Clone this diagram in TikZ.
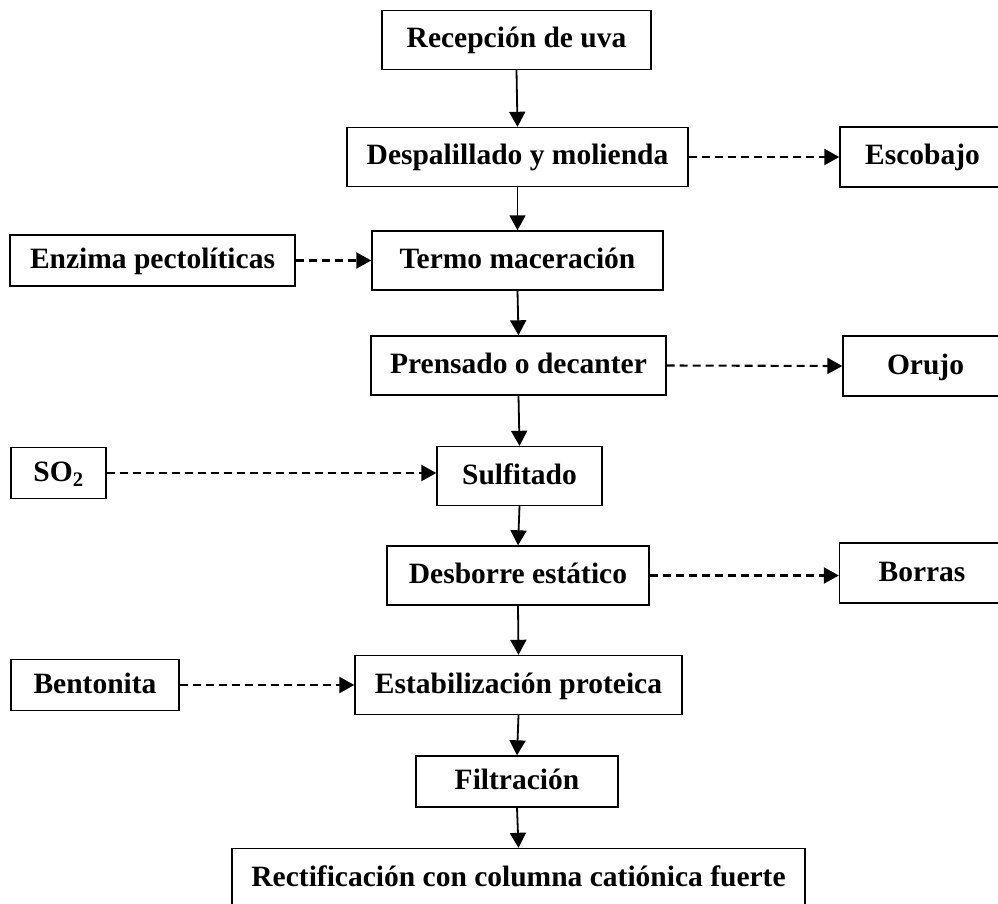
\documentclass[tikz,border=0pt]{standalone}
\usepackage{fontspec}
\setmainfont{Liberation Serif}
\usetikzlibrary{arrows.meta,positioning}
\tikzset{
  basic/.style  = {draw, rectangle, line width=1.4pt, inner sep=0pt,
                   text height=22pt, text depth=6pt,
                   font=\fontsize{29.5}{34}\selectfont\bfseries, align=center},
  etapa/.style  = {basic, minimum height=59pt},
  insumo/.style = {basic, minimum height=51pt},
  salida/.style = {basic, minimum height=60pt, minimum width=165pt},
  flujo/.style  = {->, line width=1.8pt},
  desvio/.style = {->, line width=2.1pt, dash pattern=on 8pt off 5pt}
}

\begin{document}
\begin{tikzpicture}[x=1pt, y=-1pt, >={Triangle[length=15pt,width=16pt]}]
  \clip (0,0) rectangle (998,904);

  % main line of the process
  \node[etapa, minimum width=269pt] (recep) at (516.5,40) {Recepción de uva};
  \node[etapa, minimum width=341pt] (despal) at (517.5,157) {Despalillado y molienda};
  \node[etapa, minimum width=291pt] (termo) at (517.5,260.5) {Termo maceración};
  \node[etapa, minimum width=295pt] (prensa) at (518.5,365.5) {Prensado o decanter};
  \node[etapa, minimum width=165pt] (sulf) at (519.5,476) {Sulfitado};
  \node[etapa, minimum width=262pt] (desb) at (518,575.5) {Desborre estático};
  \node[etapa, minimum width=327pt] (estab) at (518.5,685) {Estabilización proteica};
  \node[insumo, minimum width=202pt] (filtr) at (517,781.5) {Filtración};
  \node[etapa, minimum width=573pt] (rectif) at (518.5,878) {Rectificación con columna catiónica fuerte};

  % what goes in, on the left
  \node[insumo, minimum width=285pt] (enzima) at (152.5,260.5) {Enzima pectolíticas};
  \node[insumo, minimum width=95pt] (so2) at (58.5,473) {SO\textsubscript{2}};
  \node[insumo, minimum width=168pt] (bento) at (95,685) {Bentonita};

  % what comes out, on the right
  \node[salida] (escob) at (922.5,157) {Escobajo};
  \node[salida] (orujo) at (925.5,366) {Orujo};
  \node[salida] (borras) at (922,573) {Borras};

  % solid arrows down the main line
  \draw[flujo] (recep.south) -- (despal.north);
  \draw[flujo] (despal.south) -- (termo.north);
  \draw[flujo] (termo.south) -- (prensa.north);
  \draw[flujo] (prensa.south) -- (sulf.north);
  \draw[flujo] (sulf.south) -- (desb.north);
  \draw[flujo] (desb.south) -- (estab.north);
  \draw[flujo] (estab.south) -- (filtr.north);
  \draw[flujo] (filtr.south) -- (rectif.north);

  % dashed arrows in and out
  \draw[desvio] (enzima.east) -- (termo.west);
  \draw[desvio] (so2.east) -- (so2.east -| sulf.west);
  \draw[desvio] (bento.east) -- (estab.west);
  \draw[desvio] (despal.east) -- (escob.west);
  \draw[desvio] (prensa.east) -- (orujo.west);
  \draw[desvio] (desb.east) -- (desb.east -| borras.west);
\end{tikzpicture}
\end{document}
